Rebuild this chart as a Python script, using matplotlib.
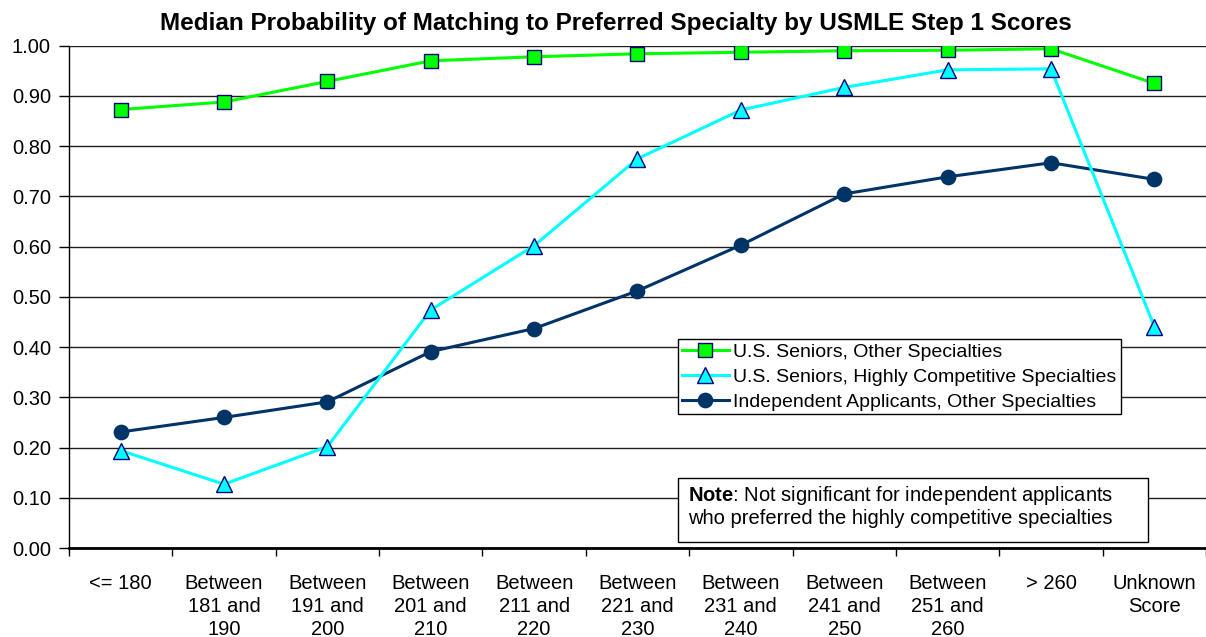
import matplotlib.pyplot as plt
import numpy as np

plt.rcParams['font.family'] = ['Liberation Sans', 'DejaVu Sans']
plt.rcParams['mathtext.fontset'] = 'custom'
plt.rcParams['mathtext.rm'] = 'Liberation Sans'
plt.rcParams['mathtext.bf'] = 'Liberation Sans:bold'

categories = ["<= 180", "Between\n181 and\n190", "Between\n191 and\n200",
              "Between\n201 and\n210", "Between\n211 and\n220", "Between\n221 and\n230",
              "Between\n231 and\n240", "Between\n241 and\n250", "Between\n251 and\n260",
              "> 260", "Unknown\nScore"]

seniors_other = [0.873, 0.888, 0.929, 0.970, 0.978, 0.984, 0.987, 0.990, 0.991, 0.994, 0.925]
seniors_competitive = [0.194, 0.127, 0.202, 0.474, 0.602, 0.775, 0.872, 0.917, 0.952, 0.954, 0.441]
independent_other = [0.231, 0.260, 0.291, 0.391, 0.437, 0.512, 0.603, 0.705, 0.739, 0.767, 0.734]

yticks = np.arange(0, 1.01, 0.1)
x = np.arange(len(categories))

fig = plt.figure(figsize=(12.06, 6.37), dpi=100)
ax = fig.add_axes([0.0572, 0.1397, 0.9428, 0.7885])

edge = '#000080'
ax.plot(x, seniors_other, color='#00FF00', lw=2.2, marker='s', ms=10.3,
        mfc='#00FF00', mec=edge, mew=1.0, label='U.S. Seniors, Other Specialties', zorder=5)
ax.plot(x, seniors_competitive, color='#00FFFF', lw=2.2, marker='^', ms=11,
        mfc='#00FFFF', mec=edge, mew=1.0, label='U.S. Seniors, Highly Competitive Specialties', zorder=4)
ax.plot(x, independent_other, color='#003366', lw=2.2, marker='o', ms=10.3,
        mfc='#003366', mec='#003366', label='Independent Applicants, Other Specialties', zorder=3)

ax.set_xlim(-0.5, len(categories) - 0.5)
ax.set_ylim(0, 1.0)
ax.set_yticks(yticks)
ax.set_yticklabels([f"{v:.2f}" for v in yticks], fontsize=14.5)
ax.set_xticks(x)
ax.set_xticklabels(categories, fontsize=14.5, va='top', linespacing=1.25)
ax.set_xticks(np.arange(-0.5, len(categories)), minor=True)
ax.tick_params(axis='x', which='major', length=0, pad=19)
ax.tick_params(axis='x', which='minor', length=6, direction='out', width=1)
ax.tick_params(axis='y', length=7, direction='out', width=1, pad=6)

ax.grid(axis='y', color='#202020', lw=1.0, zorder=0)
ax.set_axisbelow(True)
for s in ['top', 'right']:
    ax.spines[s].set_visible(False)
ax.spines['left'].set_linewidth(1.0)
ax.spines['bottom'].set_linewidth(2.0)

ax.set_title('Median Probability of Matching to Preferred Specialty by USMLE Step 1 Scores',
             fontsize=17.5, fontweight='bold', pad=11, x=0.481)

leg = ax.legend(loc='upper left', bbox_to_anchor=(0.5356, 0.416), fontsize=14,
                frameon=True, fancybox=False, edgecolor='#000000', framealpha=1,
                handlelength=2.4, handletextpad=0.25, borderpad=0.2, labelspacing=0.38,
                borderaxespad=0)
leg.get_frame().set_linewidth(1.0)

ax.add_patch(plt.Rectangle((0.5356, 0.012), 0.4134, 0.127, transform=ax.transAxes,
                           fc='white', ec='#000000', lw=1.0, zorder=6))
ax.text(0.5444, 0.1036, r"$\bf{Note}$: Not significant for independent applicants",
        transform=ax.transAxes, fontsize=14.5, va='center', ha='left', zorder=7)
ax.text(0.5444, 0.0578, "who preferred the highly competitive specialties",
        transform=ax.transAxes, fontsize=14.5, va='center', ha='left', zorder=7)

fig.savefig('out.png', dpi=100)
